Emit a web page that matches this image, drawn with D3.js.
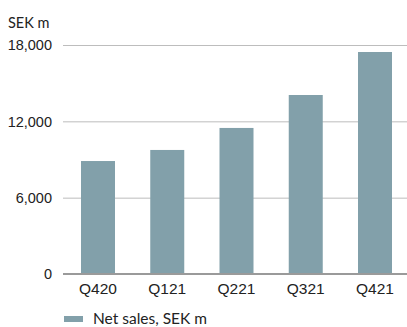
<!DOCTYPE html>
<html><head><meta charset="utf-8">
<script src="https://cdn.jsdelivr.net/npm/d3@7"></script>
<style>
body{margin:0;background:#fff;}
svg{display:block;font-family:Lato, "Open Sans", sans-serif;}
</style></head>
<body><svg id="c" width="407" height="327"></svg>
<script>
const categories = ["Q420","Q121","Q221","Q321","Q421"];
const netSales = [8880, 9750, 11480, 14070, 17450];
const yTicks = [0, 6000, 12000, 18000];
const unitLabel = "SEK m";
const seriesName = "Net sales, SEK m";

const svg = d3.select("#c");
const W = 407;
const x = d3.scaleBand().domain(categories).range([63, 410]).paddingInner(0.509).paddingOuter(0.26);
const y = d3.scaleLinear().domain([0, 18000]).range([274, 45]);
const fmt = d3.format(",");
const barColor = "#82a0aa";

// grid + y labels
const ya = svg.append("g").attr("transform","translate(63,0)")
  .call(d3.axisLeft(y).tickValues(yTicks).tickFormat(fmt).tickSize(-(W-63)).tickPadding(11));
ya.select(".domain").remove();
ya.selectAll(".tick line").attr("stroke","#bdbdbd").attr("stroke-width",1);
ya.selectAll(".tick text").attr("fill","#222").style("font-size","14.5px").attr("dy","0.34em");

// bars
svg.append("g").selectAll("rect").data(netSales).join("rect")
  .attr("x",(d,i)=>x(categories[i]))
  .attr("width",x.bandwidth())
  .attr("y",d=>y(d))
  .attr("height",d=>y(0)-y(d))
  .attr("fill",barColor);

// baseline
svg.append("line").attr("x1",63).attr("x2",W).attr("y1",y(0)).attr("y2",y(0))
  .attr("stroke","#9a9a9a").attr("stroke-width",2);

// x axis labels
const xa = svg.append("g").attr("transform",`translate(0,${y(0)})`)
  .call(d3.axisBottom(x).tickSize(0).tickPadding(9));
xa.select(".domain").remove();
xa.selectAll(".tick text").attr("fill","#222").style("font-size","15.5px");

// unit label
svg.append("text").attr("x",8).attr("y",28).attr("fill","#222").style("font-size","14.5px").text(unitLabel);

// legend
svg.append("rect").attr("x",64).attr("y",316).attr("width",19).attr("height",6).attr("fill",barColor);
svg.append("text").attr("x",93).attr("y",323.5).attr("fill","#222").style("font-size","15.5px").text(seriesName);
</script></body></html>
